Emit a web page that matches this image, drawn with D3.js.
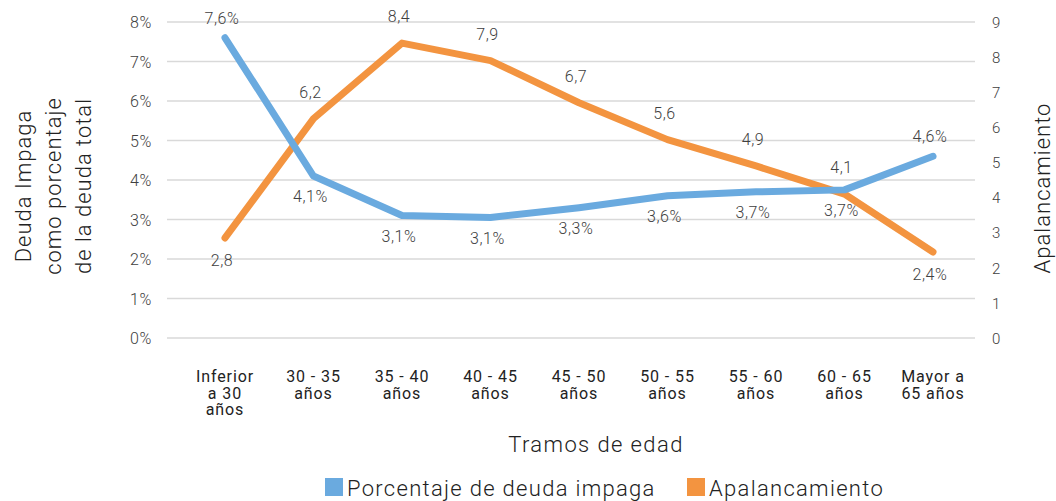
<!DOCTYPE html>
<html><head><meta charset="utf-8">
<script src="https://cdn.jsdelivr.net/npm/d3@7"></script>
<style>
html,body{margin:0;padding:0;background:#fff;}
text{font-family:"Roboto","Noto Sans",sans-serif;}
</style></head>
<body><svg id="c" width="1056" height="501"></svg>
<script>
const categories = [["Inferior","a 30","años"],["30 - 35","años"],["35 - 40","años"],["40 - 45","años"],["45 - 50","años"],["50 - 55","años"],["55 - 60","años"],["60 - 65","años"],["Mayor a","65 años"]];
const deudaImpaga = [7.6, 4.1, 3.1, 3.05, 3.3, 3.6, 3.7, 3.75, 4.6];
const deudaLabels = ["7,6%","4,1%","3,1%","3,1%","3,3%","3,6%","3,7%","3,7%","4,6%"];
const apalancamiento = [2.85, 6.25, 8.4, 7.9, 6.7, 5.65, 4.9, 4.1, 2.45];
const apalLabels = ["2,8","6,2","8,4","7,9","6,7","5,6","4,9","4,1","2,4%"];
const leftTicks = [0,1,2,3,4,5,6,7,8];
const rightTicks = [0,1,2,3,4,5,6,7,8,9];
const legendNames = ["Porcentaje de deuda impaga","Apalancamiento"];

const svg = d3.select("#c");
const blue = "#6aaadf", orange = "#f39440", txt = "#404040";
const x = d3.scalePoint().domain(d3.range(categories.length)).range([225, 933]);
const yL = d3.scaleLinear().domain([0, 8]).range([338, 22]);
const yR = d3.scaleLinear().domain([0, 9]).range([338, 22]);
const gridX0 = 167, gridX1 = 975;

// gridlines
svg.append("g").selectAll("line").data(leftTicks).join("line")
  .attr("x1", gridX0).attr("x2", gridX1)
  .attr("y1", d => yL(d)).attr("y2", d => yL(d))
  .attr("stroke", "#d9d9d9").attr("stroke-width", 1.5);

// left axis labels
const la = d3.axisLeft(yL).tickValues(leftTicks).tickSize(0).tickPadding(0).tickFormat(d => d + "%");
const lg = svg.append("g").attr("transform", "translate(152,0)").call(la);
lg.select(".domain").remove();
lg.selectAll("text").attr("font-size", 16).attr("fill", txt).attr("font-weight", 300)
  .attr("letter-spacing", 0.6).attr("dy", "0.35em");

// right axis labels
const ra = d3.axisRight(yR).tickValues(rightTicks).tickSize(0).tickPadding(0).tickFormat(d3.format("d"));
const rg = svg.append("g").attr("transform", "translate(992,0)").call(ra);
rg.select(".domain").remove();
rg.selectAll("text").attr("font-size", 15).attr("fill", txt).attr("font-weight", 300).attr("dy", "0.35em");

// category labels
const cg = svg.append("g");
categories.forEach((lines, i) => {
  const t = cg.append("text").attr("x", x(i)).attr("y", 382).attr("text-anchor", "middle")
    .attr("font-size", 16).attr("letter-spacing", 0.9).attr("fill", "#222");
  lines.forEach((l, j) => t.append("tspan").attr("x", x(i)).attr("dy", j === 0 ? 0 : 16.5).text(l));
});

// lines
const lineL = d3.line().x((d, i) => x(i)).y(d => yL(d));
const lineR = d3.line().x((d, i) => x(i)).y(d => yR(d));
svg.append("path").datum(apalancamiento).attr("d", lineR).attr("fill", "none")
  .attr("stroke", orange).attr("stroke-width", 7).attr("stroke-linecap", "round").attr("stroke-linejoin", "round");
svg.append("path").datum(deudaImpaga).attr("d", lineL).attr("fill", "none")
  .attr("stroke", blue).attr("stroke-width", 7).attr("stroke-linecap", "round").attr("stroke-linejoin", "round");

// data labels
const blueAbove = [true,false,false,false,false,false,false,false,true];
const orangeAbove = [false,true,true,true,true,true,true,true,false];
svg.append("g").selectAll("text").data(deudaImpaga).join("text")
  .attr("x", (d, i) => x(i) - 3)
  .attr("y", (d, i) => yL(d) + (blueAbove[i] ? -14 : 26))
  .attr("text-anchor", "middle").attr("font-size", 16).attr("font-weight", 300).attr("letter-spacing", 0.6).attr("fill", txt)
  .text((d, i) => deudaLabels[i]);
svg.append("g").selectAll("text").data(apalancamiento).join("text")
  .attr("x", (d, i) => x(i) - 3)
  .attr("y", (d, i) => yR(d) + (orangeAbove[i] ? -21 : 28))
  .attr("text-anchor", "middle").attr("font-size", 16).attr("font-weight", 300).attr("letter-spacing", 0.6).attr("fill", txt)
  .text((d, i) => apalLabels[i]);

// axis titles
const ltitle = ["Deuda Impaga","como porcentaje","de la deuda total"];
ltitle.forEach((l, i) => {
  svg.append("text").attr("transform", `translate(${31 + i * 30},186) rotate(-90)`)
    .attr("text-anchor", "middle").attr("font-size", 22).attr("font-weight", 300).attr("letter-spacing", 1)
    .attr("fill", "#222").text(l);
});
svg.append("text").attr("transform", "translate(1050,188) rotate(-90)")
  .attr("text-anchor", "middle").attr("font-size", 22).attr("font-weight", 300).attr("letter-spacing", 1)
  .attr("fill", "#222").text("Apalancamiento");
svg.append("text").attr("x", 596).attr("y", 452).attr("text-anchor", "middle")
  .attr("font-size", 22).attr("font-weight", 300).attr("letter-spacing", 1.4).attr("fill", "#222").text("Tramos de edad");

// legend
const legColors = [blue, orange];
const legX = [325, 687];
legendNames.forEach((n, i) => {
  svg.append("rect").attr("x", legX[i]).attr("y", 478).attr("width", 18).attr("height", 18).attr("fill", legColors[i]);
  svg.append("text").attr("x", legX[i] + 22).attr("y", 496).attr("font-size", 22).attr("font-weight", 300)
    .attr("letter-spacing", 1.3).attr("fill", "#222").text(n);
});
</script></body></html>
